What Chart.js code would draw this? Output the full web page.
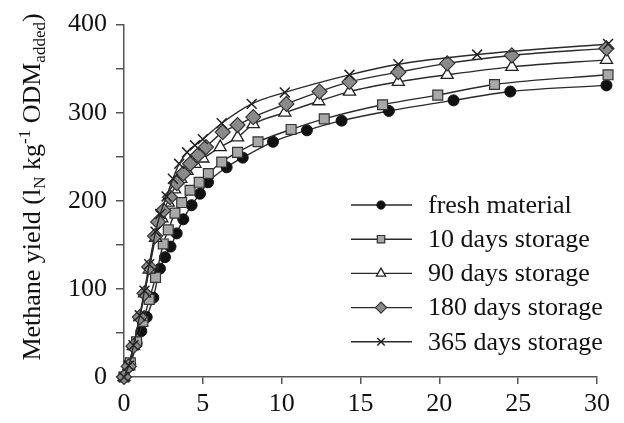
<!DOCTYPE html>
<html>
<head>
<meta charset="utf-8">
<script src="https://cdn.jsdelivr.net/npm/chart.js@4/dist/chart.umd.min.js"></script>
<style>
  html, body { margin: 0; padding: 0; background: #fff; }
</style>
</head>
<body>
<canvas id="methane" width="624" height="423"></canvas>
<script>
// series labels
const seriesNames = [
  "fresh material",
  "10 days storage",
  "90 days storage",
  "180 days storage",
  "365 days storage",
];

// days of digestion (x) and methane yield (y) for each series
const freshDays = [0, 0.4, 0.8, 1.1, 1.44, 1.86, 2.28, 2.6, 2.95, 3.34, 3.76, 4.29, 4.82, 5.33, 6.51, 7.53, 9.45, 11.6, 13.8, 16.8, 20.9, 24.5, 30.6];
const freshYield = [0, 14, 38, 52, 68, 90, 123, 136, 148, 163, 179, 195, 208, 221, 238, 249, 267, 280, 291, 302, 314, 324, 331];

const d10Days = [0, 0.4, 0.8, 1.2, 1.6, 2.0, 2.49, 2.81, 3.23, 3.66, 4.19, 4.77, 5.35, 6.2, 7.2, 8.5, 10.6, 12.7, 16.4, 19.9, 23.5, 30.7];
const d10Yield = [0, 16, 40, 63, 88, 113, 151, 167, 186, 198, 212, 221, 231, 244, 255, 267, 281, 293, 309, 320, 332, 343];

const d90Days = [0, 0.3, 0.6, 1.0, 1.3, 1.6, 2.0, 2.4, 2.8, 3.2, 3.6, 4.0, 4.5, 5.0, 6.1, 7.2, 8.2, 10.2, 12.35, 14.3, 17.4, 20.5, 24.6, 30.6];
const d90Yield = [0, 12, 35, 68, 95, 122, 158, 180, 198, 213, 225, 234, 242, 248, 261, 272, 287, 300, 313, 324, 335, 343, 352, 360];

const d180Days = [0, 0.3, 0.6, 1.0, 1.3, 1.6, 1.97, 2.17, 2.49, 2.92, 3.34, 3.76, 4.19, 4.7, 5.2, 6.26, 7.2, 8.2, 10.3, 12.4, 14.3, 17.4, 20.5, 24.6, 30.6];
const d180Yield = [0, 12, 35, 68, 95, 125, 160, 176, 189, 204, 220, 231, 242, 252, 261, 278, 286, 295, 310, 324, 335, 346, 356, 365, 373];

const d365Days = [0, 0.3, 0.6, 1.0, 1.3, 1.6, 2.0, 2.3, 2.7, 3.1, 3.5, 4.0, 4.5, 5.0, 6.2, 8.1, 10.2, 14.3, 17.4, 22.4, 30.7];
const d365Yield = [0, 13, 36, 70, 98, 128, 165, 185, 205, 225, 242, 255, 263, 270, 288, 310, 323, 343, 355, 366, 378];

const xTicks = [0, 5, 10, 15, 20, 25, 30];
const yTicks = [0, 100, 200, 300, 400];

const toPoints = (xs, ys) => xs.map((x, i) => ({ x: x, y: ys[i] }));

// marker look per series
const markers = [
  { style: "circle", r: 5.5, fill: "#111", stroke: "#111", bw: 1 },
  { style: "rect", r: 7, fill: "#a8a8a8", stroke: "#333", bw: 1.2 },
  { style: "triangle", r: 7, fill: "#fff", stroke: "#222", bw: 1.3 },
  { style: "rectRot", r: 7.5, fill: "#8a8a8a", stroke: "#333", bw: 1.2 },
  { style: "crossRot", r: 7, fill: "#222", stroke: "#222", bw: 1.5 },
];

const allData = [
  toPoints(freshDays, freshYield),
  toPoints(d10Days, d10Yield),
  toPoints(d90Days, d90Yield),
  toPoints(d180Days, d180Yield),
  toPoints(d365Days, d365Yield),
];

const serif = "'Liberation Serif', 'Times New Roman', serif";

const datasets = seriesNames.map((name, i) => ({
  label: name,
  data: allData[i],
  borderColor: "#2a2a2a",
  borderWidth: 1.4,
  pointStyle: markers[i].style,
  pointRadius: markers[i].r,
  pointBackgroundColor: markers[i].fill,
  pointBorderColor: markers[i].stroke,
  pointBorderWidth: markers[i].bw,
  cubicInterpolationMode: "monotone",
  clip: false,
  order: 4 - i,
}));

// y title with sub and superscripts
const yTitleParts = [
  { t: "Methane yield (l", k: 0 },
  { t: "N", k: 1 },
  { t: " kg", k: 0 },
  { t: "-1", k: -1 },
  { t: " ODM", k: 0 },
  { t: "added", k: 1 },
  { t: ")", k: 0 },
];

new Chart(document.getElementById("methane"), {
  type: "line",
  data: { datasets: datasets },
  options: {
    responsive: false,
    animation: false,
    layout: { padding: { top: 24, right: 27, left: 0, bottom: 0 } },
    plugins: {
      legend: { display: false },
      tooltip: { enabled: false },
    },
    scales: {
      x: {
        type: "linear",
        min: 0,
        max: 30,
        afterFit(scale) { scale.height = 46; },
        afterBuildTicks(scale) { scale.ticks = xTicks.map(v => ({ value: v })); },
        border: { display: true, color: "#555", width: 1.5 },
        grid: { drawOnChartArea: false, drawTicks: true, tickLength: 7, color: "#555", lineWidth: 1.5 },
        ticks: { color: "#111", padding: 5, maxRotation: 0, font: { family: serif, size: 26 } },
      },
      y: {
        min: 0,
        max: 400,
        afterFit(scale) { scale.width = 124; },
        ticks: {
          stepSize: 50,
          color: "#111",
          padding: 9,
          font: { family: serif, size: 26 },
          callback: (v) => (yTicks.includes(v) ? v : ""),
        },
        border: { display: true, color: "#555", width: 1.5 },
        grid: { drawOnChartArea: false, drawTicks: true, tickLength: 8, color: "#555", lineWidth: 1.5 },
      },
    },
  },
  plugins: [
    {
      // last readings sit just past day 30, Chart.js skips markers outside the area
      id: "edgePoints",
      afterDatasetsDraw(chart) {
        const area = chart.chartArea;
        const ctx = chart.ctx;
        chart.data.datasets.forEach((ds, i) => {
          chart.getDatasetMeta(i).data.forEach(el => {
            if (el.x > area.right) el.draw(ctx);
          });
        });
      },
    },
    {
      id: "yTitle",
      afterDraw(chart) {
        const ctx = chart.ctx;
        const big = "26px " + serif;
        const small = "17px " + serif;
        ctx.save();
        let total = 0;
        yTitleParts.forEach(p => {
          ctx.font = p.k === 0 ? big : small;
          total += ctx.measureText(p.t).width;
        });
        ctx.translate(40, 187);
        ctx.rotate(-Math.PI / 2);
        ctx.fillStyle = "#111";
        ctx.textBaseline = "alphabetic";
        let x = -total / 2;
        yTitleParts.forEach(p => {
          ctx.font = p.k === 0 ? big : small;
          const dy = p.k === 1 ? 5 : p.k === -1 ? -10 : 0;
          ctx.fillText(p.t, x, dy);
          x += ctx.measureText(p.t).width;
        });
        ctx.restore();
      },
    },
    {
      id: "boxLegend",
      afterDraw(chart) {
        const ctx = chart.ctx;
        ctx.save();
        chart.data.datasets.forEach((ds, i) => {
          const y = 205 + i * 34.2;
          ctx.strokeStyle = "#2a2a2a";
          ctx.lineWidth = 1.4;
          ctx.beginPath();
          ctx.moveTo(351, y);
          ctx.lineTo(412, y);
          ctx.stroke();
          ctx.fillStyle = markers[i].fill;
          ctx.strokeStyle = markers[i].stroke;
          ctx.lineWidth = markers[i].bw;
          Chart.helpers.drawPoint(ctx, {
            pointStyle: markers[i].style,
            radius: markers[i].r * 0.75,
            rotation: 0,
            borderWidth: markers[i].bw,
          }, 381, y);
          ctx.fillStyle = "#111";
          ctx.font = "26px " + serif;
          ctx.textBaseline = "middle";
          ctx.fillText(ds.label, 428, y + 1);
        });
        ctx.restore();
      },
    },
  ],
});
</script>
</body>
</html>
